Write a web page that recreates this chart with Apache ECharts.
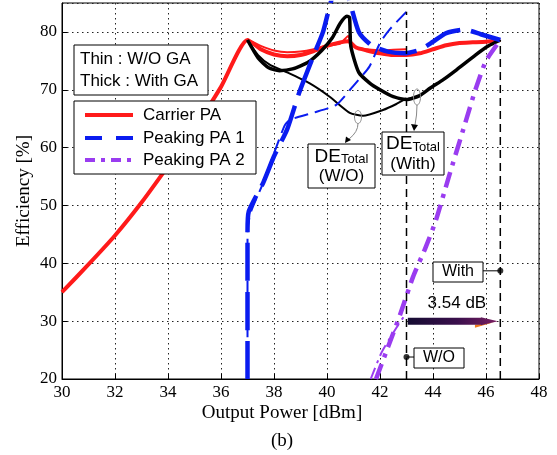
<!DOCTYPE html>
<html>
<head>
<meta charset="utf-8">
<script src="https://cdn.jsdelivr.net/npm/echarts@6.0.0/dist/echarts.min.js"></script>
<style>
html,body{margin:0;padding:0;background:#fff;}
#chart{width:557px;height:455px;}
</style>
</head>
<body>
<div id="chart"></div>
<script>
// Axis ticks
const xTicks = [30, 32, 34, 36, 38, 40, 42, 44, 46, 48];
const yTicks = [20, 30, 40, 50, 60, 70, 80];

// Carrier PA efficiency [dBm, %]
const carrierWith = [[30,35],[31,39.8],[32,44.8],[33,50.5],[34,56.8],[35,63.3],[36,70.5],[37,78.6],
  [37.5,77],[38,76.1],[38.5,75.8],[39,76],[39.5,76.7],[40,77.6],[40.5,78.2],[40.8,78.4],[41.1,77.3],
  [41.5,76.8],[42,76.3],[42.5,76],[43,76],[43.5,76.3],[44,77],[44.5,77.7],[45,78.1],[45.5,78.2],[46,78.3],[46.54,78.6]];
const carrierWO = [[30,35],[31,39.8],[32,44.8],[33,50.5],[34,56.8],[35,63.3],[36,70.5],[37,78.6],
  [37.5,77.6],[38,76.8],[38.5,76.5],[39,76.6],[39.5,77],[40,77.6],[40.5,78],[40.8,79.3],[40.9,77.8],
  [41.2,77.2],[41.5,77],[42,76.8],[42.5,76.9],[43,77]];

// Total drain efficiency
const totalWith = [[37,78.6],[37.4,75.5],[37.8,73.8],[38.2,73.3],[38.7,73.6],[39.3,74.8],[39.8,76.8],
  [40.2,79],[40.5,81.5],[40.75,82.7],[40.85,82.5],[40.9,77.5],[41.2,73],[41.6,71.2],[42,70],[42.5,68.8],
  [43,68.3],[43.5,69],[43.9,70.3],[44.4,71.8],[44.9,73.5],[45.6,76],[46.1,77.6],[46.54,78.6]];
const totalWO = [[37,78.6],[37.4,76],[37.85,74.3],[38.5,73],[39.35,71.1],[40.1,68.8],[40.86,66],
  [41.36,65.5],[42.11,66.5],[42.6,67.5],[43,68.5]];

// Peaking PA 1
const peak1With = [[37,20],[37,45.2],[37.05,49],[37.6,54],[38,58.5],[38.5,63.2],[38.95,69.5],[39.5,76],
  [39.85,80],[40.2,86],[40.5,88],[40.8,86],[41.2,80],[41.7,77.6],[42.3,76.6],[42.9,76.3],[43.5,76.9],
  [44,78.3],[44.5,79.8],[45.2,80.4],[45.8,79.6],[46.54,78.6]];
const peak1WO = [[37,20],[37,45],[37.1,48.5],[37.6,54],[38,59],[38.4,63.8],[38.6,64.8],[39.47,66],
  [40.35,67.4],[40.98,70.6],[41.6,74],[42,78.1],[42.36,80.4],[43,83.5]];

// Peaking PA 2
const peak2With = [[41.85,20],[42.3,25.5],[42.75,31],[43.25,37.7],[43.7,42.5],[44.1,47.3],[44.6,55],
  [45.2,64],[45.6,70],[46,75],[46.54,78.6]];
const peak2WO = [[41.65,20],[42.05,24.5],[42.5,28],[42.9,30.8]];

// Maximum output power markers
const maxPowerWO = 43.0;
const maxPowerWith = 46.54;
const markerWO = [43.0, 23.8];
const markerWith = [46.54, 38.7];
const gainText = '3.54 dB';
const arrowY = 30;

const RED = '#ff1a1a', BLUE = '#0a1cf0', PURPLE = '#9a3cf0', BLACK = '#000';
const SERIF = 'Liberation Serif, Times New Roman, serif';
const SANS = 'Liberation Sans, Arial, sans-serif';

function line(data, color, width, type, z) {
  return { type: 'line', data, showSymbol: false, symbol: 'none', smooth: 0.2, clip: true,
    lineStyle: { color, width, type: type || 'solid', cap: 'butt', join: 'round' }, z: z || 2, silent: true };
}

const chart = echarts.init(document.getElementById('chart'), null, { renderer: 'canvas' });

const option = {
  animation: false,
  backgroundColor: '#fff',
  grid: { left: 62, right: 18, top: 3, bottom: 76, show: true, borderColor: '#000', borderWidth: 1, backgroundColor: 'transparent' },
  xAxis: {
    type: 'value', min: xTicks[0], max: xTicks[xTicks.length - 1], interval: 2,
    axisLine: { lineStyle: { color: '#000', width: 1 } },
    axisTick: { inside: true, length: 5, lineStyle: { color: '#000' } },
    axisLabel: { color: '#000', fontFamily: SERIF, fontSize: 17, margin: 5 },
    splitLine: { show: true, lineStyle: { color: '#222', width: 1, type: [1.5, 3.5] } }
  },
  yAxis: {
    type: 'value', min: yTicks[0], max: 85, interval: 10,
    axisLine: { lineStyle: { color: '#000', width: 1 } },
    axisTick: { inside: true, length: 5, lineStyle: { color: '#000' } },
    axisLabel: { color: '#000', fontFamily: SERIF, fontSize: 17, margin: 5, showMaxLabel: false },
    splitLine: { show: true, lineStyle: { color: '#222', width: 1, type: [1.5, 3.5] } }
  },
  series: [
    line(carrierWO, RED, 2, 'solid', 2),
    line(carrierWith, RED, 4, 'solid', 2),
    line(totalWO, BLACK, 2, 'solid', 3),
    line(totalWith, BLACK, 3.5, 'solid', 3),
    line(peak1WO, BLUE, 2, [14, 7], 4),
    line(peak1With, BLUE, 4.5, [38, 11], 4),
    line(peak2WO, PURPLE, 2, [12, 5, 3, 5], 4),
    line(peak2With, PURPLE, 4.5, [16, 7, 4, 7], 4),
    { type: 'line', data: [[maxPowerWO, 20], [maxPowerWO, 83.5]], symbol: 'none', silent: true,
      lineStyle: { color: '#000', width: 1.5, type: [8, 5] }, z: 5 },
    { type: 'line', data: [[maxPowerWith, 20], [maxPowerWith, 78.6]], symbol: 'none', silent: true,
      lineStyle: { color: '#000', width: 1.5, type: [8, 5] }, z: 5 },
    { type: 'scatter', data: [markerWO, markerWith], symbol: 'circle', symbolSize: 6, silent: true,
      itemStyle: { color: '#000' }, z: 6 }
  ]
};
chart.setOption(option);

const px = p => chart.convertToPixel({ gridIndex: 0 }, p);

// Annotations placed relative to the data coordinates
const pWO = px(markerWO), pWith = px(markerWith);
const aStart = px([43.05, arrowY]), aEnd = px([46.45, arrowY]);
const headLen = 17, bodyH = 3.5, headH = 6;
const ax0 = aStart[0], ax1 = aEnd[0], ay = aStart[1];

function textBox(x, y, w, h, text, size) {
  return [
    { type: 'rect', shape: { x, y, width: w, height: h }, style: { fill: '#fff', stroke: '#000', lineWidth: 1 }, z: 20 },
    { type: 'text', x: x + w / 2, y: y + h / 2, style: { text, font: size + 'px ' + SANS, fill: '#000', align: 'center', verticalAlign: 'middle' }, z: 21 }
  ];
}

function deBox(x, y, w, h, sub) {
  return [
    { type: 'rect', shape: { x, y, width: w, height: h }, style: { fill: '#fff', stroke: '#000', lineWidth: 1 }, z: 20 },
    { type: 'text', x: x + w / 2, y: y + h / 2, z: 21,
      style: { text: '{a|DE}{b|Total}\n{c|' + sub + '}', align: 'center', verticalAlign: 'middle',
        rich: { a: { font: '19px ' + SANS, fill: '#000', lineHeight: 21, verticalAlign: 'bottom' },
                b: { font: '13px ' + SANS, fill: '#000', lineHeight: 21, verticalAlign: 'bottom' },
                c: { font: '17px ' + SANS, fill: '#000', lineHeight: 21, align: 'center' } } } }
  ];
}

const graphics = [
  // axis titles
  { type: 'text', x: 24, y: 191, rotation: Math.PI / 2,
    style: { text: 'Efficiency [%]', font: '19px ' + SERIF, fill: '#000', align: 'center', verticalAlign: 'middle' } },
  { type: 'text', x: 282, y: 413,
    style: { text: 'Output Power [dBm]', font: '19px ' + SERIF, fill: '#000', align: 'center', verticalAlign: 'middle' } },
  { type: 'text', x: 282, y: 441,
    style: { text: '(b)', font: '19px ' + SERIF, fill: '#000', align: 'center', verticalAlign: 'middle' } },

  // line-width key
  { type: 'rect', shape: { x: 74, y: 45, width: 134, height: 50 }, style: { fill: '#fff', stroke: '#000', lineWidth: 1 }, z: 20 },
  { type: 'text', x: 80, y: 59, style: { text: 'Thin : W/O GA', font: '17px ' + SANS, fill: '#000', verticalAlign: 'middle' }, z: 21 },
  { type: 'text', x: 80, y: 81, style: { text: 'Thick : With GA', font: '17px ' + SANS, fill: '#000', verticalAlign: 'middle' }, z: 21 },

  // series legend
  { type: 'rect', shape: { x: 74, y: 101, width: 182, height: 73 }, style: { fill: '#fff', stroke: '#000', lineWidth: 1 }, z: 20 },
  { type: 'line', shape: { x1: 85, y1: 115, x2: 133, y2: 115 }, style: { stroke: RED, lineWidth: 4 }, z: 21 },
  { type: 'line', shape: { x1: 85, y1: 138, x2: 133, y2: 138 }, style: { stroke: BLUE, lineWidth: 4, lineDash: [17, 14] }, z: 21 },
  { type: 'line', shape: { x1: 85, y1: 160, x2: 133, y2: 160 }, style: { stroke: PURPLE, lineWidth: 4, lineDash: [10, 6, 4, 6] }, z: 21 },
  { type: 'text', x: 143, y: 115, style: { text: 'Carrier PA', font: '17px ' + SANS, fill: '#000', verticalAlign: 'middle' }, z: 21 },
  { type: 'text', x: 143, y: 138, style: { text: 'Peaking PA 1', font: '17px ' + SANS, fill: '#000', verticalAlign: 'middle' }, z: 21 },
  { type: 'text', x: 143, y: 160, style: { text: 'Peaking PA 2', font: '17px ' + SANS, fill: '#000', verticalAlign: 'middle' }, z: 21 },

  // DE_Total callouts
  ...deBox(308, 144, 67, 44, '(W/O)'),
  ...deBox(382, 132, 62, 43, '(With)'),
  { type: 'ellipse', shape: { cx: 358, cy: 117, rx: 3.5, ry: 6.5 }, style: { fill: 'none', stroke: '#888', lineWidth: 1 }, z: 15 },
  { type: 'bezierCurve', shape: { x1: 358, y1: 123.5, cpx1: 358, cpy1: 132, x2: 349, y2: 139 }, style: { stroke: '#888', lineWidth: 1, fill: 'none' }, z: 15 },
  { type: 'polygon', shape: { points: [[345, 143], [346, 136.5], [351, 140]] }, style: { fill: '#000' }, z: 16 },
  { type: 'ellipse', shape: { cx: 417, cy: 97, rx: 3.5, ry: 8 }, style: { fill: 'none', stroke: '#888', lineWidth: 1 }, z: 15 },
  { type: 'bezierCurve', shape: { x1: 417, y1: 105, cpx1: 417, cpy1: 115, x2: 415, y2: 125 }, style: { stroke: '#888', lineWidth: 1, fill: 'none' }, z: 15 },
  { type: 'polygon', shape: { points: [[414, 131], [411, 124], [418, 125]] }, style: { fill: '#000' }, z: 16 },

  // maximum power labels
  ...textBox(433, 262, 50, 20, 'With', 16),
  { type: 'line', shape: { x1: 483, y1: pWith[1], x2: pWith[0], y2: pWith[1] }, style: { stroke: '#000', lineWidth: 1 }, z: 19 },
  ...textBox(414, 348, 50, 20, 'W/O', 16),
  { type: 'line', shape: { x1: pWO[0], y1: pWO[1], x2: 414, y2: pWO[1] }, style: { stroke: '#000', lineWidth: 1 }, z: 19 },

  // power gain arrow
  { type: 'polygon', z: 18,
    shape: { points: [[ax0, ay - bodyH], [ax1 - headLen, ay - bodyH], [ax1 - headLen, ay - headH + 2],
                      [ax1, ay], [ax1 - headLen, ay + headH - 2], [ax1 - headLen, ay + bodyH], [ax0, ay + bodyH]] },
    style: { fill: new echarts.graphic.LinearGradient(0, 0, 1, 0, [
      { offset: 0, color: '#150c32' }, { offset: 0.55, color: '#3a0f4c' }, { offset: 1, color: '#7a1f62' }]) } },
  { type: 'polygon', z: 17,
    shape: { points: [[ax1 - headLen - 6, ay + bodyH], [ax1 - 4, ay + 1], [ax1 - headLen - 6, ay + bodyH + 3]] },
    style: { fill: '#f07a1e' } },
  { type: 'text', x: (ax0 + ax1) / 2 + 4, y: ay - 18,
    style: { text: gainText, font: '17px ' + SANS, fill: '#000', align: 'center', verticalAlign: 'middle' }, z: 21 }
];

chart.setOption({ graphic: graphics });
</script>
</body>
</html>
